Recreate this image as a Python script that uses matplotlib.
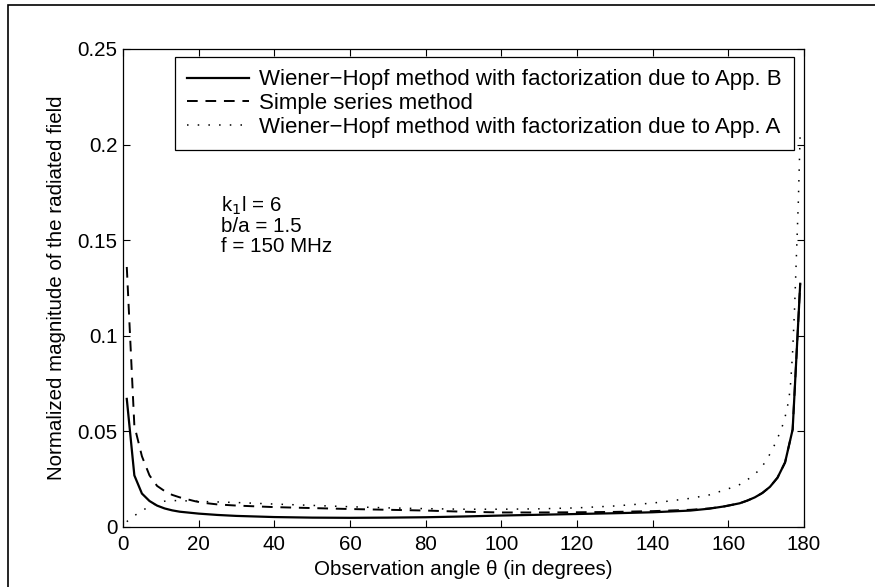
import matplotlib
matplotlib.use("Agg")
import matplotlib.pyplot as plt
from matplotlib.patches import Rectangle

plt.rcParams["font.family"] = ["Liberation Sans", "DejaVu Sans"]

# Wiener-Hopf, factorization of App. B
theta_b = [1, 3, 5, 7, 9, 11, 13, 15, 20, 25, 30, 40, 50, 60, 70, 80, 90, 100,
           110, 120, 130, 140, 150, 155, 159, 163, 165, 167, 169, 171, 173, 175,
           177, 179]
field_b = [0.067, 0.027, 0.0175, 0.0136, 0.0112, 0.0097, 0.0087, 0.0080, 0.0070,
           0.0063, 0.0058, 0.0052, 0.0049, 0.0048, 0.0049, 0.0051, 0.0055, 0.0060,
           0.0064, 0.0068, 0.0072, 0.0077, 0.0086, 0.0096, 0.0108, 0.0124, 0.0138,
           0.0155, 0.0178, 0.0210, 0.0258, 0.0338, 0.0510, 0.1272]

# simple series method
theta_s = [1, 3, 5, 7, 9, 11, 13, 15, 17, 19, 21, 25, 30, 40, 50, 60, 70, 80, 90,
           100, 110, 120, 130, 140, 150, 155, 159, 163, 165, 167, 169, 171, 173,
           175, 177, 179]
field_s = [0.136, 0.053, 0.037, 0.027, 0.0215, 0.0188, 0.0168, 0.0155, 0.0145,
           0.0135, 0.0127, 0.0118, 0.0112, 0.0104, 0.0099, 0.0094, 0.0090, 0.0086,
           0.0080, 0.0076, 0.0076, 0.0077, 0.0079, 0.0083, 0.0090, 0.0097, 0.0108,
           0.0124, 0.0138, 0.0155, 0.0178, 0.0210, 0.0258, 0.0338, 0.0510, 0.1272]

# Wiener-Hopf, factorization of App. A
theta_a = [1, 3, 5, 7, 9, 11, 13, 15, 20, 30, 40, 50, 60, 70, 80, 90, 100, 110,
           120, 130, 140, 150, 155, 160, 163, 166, 168, 170, 172, 174, 175, 176,
           176.5, 177, 177.5, 178, 178.5, 179]
field_a = [0.0028, 0.0059, 0.0085, 0.0108, 0.0124, 0.0135, 0.0138, 0.0138, 0.0134,
           0.0128, 0.0120, 0.0113, 0.0106, 0.0100, 0.0096, 0.0093, 0.0093, 0.0095,
           0.0100, 0.0110, 0.0125, 0.0150, 0.0168, 0.0200, 0.0222, 0.0260, 0.0295,
           0.0345, 0.0420, 0.0510, 0.0575, 0.0665, 0.0760, 0.0920, 0.1140, 0.1420,
           0.1700, 0.2070]

labels = ["Wiener\u2212Hopf method with factorization due to App. B",
          "Simple series method",
          "Wiener\u2212Hopf method with factorization due to App. A"]
params = ["k$_1$l = 6", "b/a = 1.5", "f = 150 MHz"]

fs = 14.8

fig = plt.figure(figsize=(8.75, 5.87), dpi=100)
fig.patches.append(Rectangle((8 / 875, -0.1), 1.2, 1 - 4.5 / 587 + 0.1,
                             transform=fig.transFigure, fill=False,
                             edgecolor="black", linewidth=1.2))
ax = fig.add_axes([123 / 875, 60 / 587, 681 / 875, 478 / 587])

ax.plot(theta_b, field_b, color="black", linewidth=1.6, label=labels[0])
ax.plot(theta_s, field_s, color="black", linewidth=1.4, dashes=(5.5, 4),
        label=labels[1])
ax.plot(theta_a, field_a, color="black", linewidth=1.1, dashes=(1, 6),
        label=labels[2])

ax.set_xlim(0, 180)
ax.set_ylim(0, 0.25)
ax.set_xticks(range(0, 181, 20))
ax.set_yticks([0, 0.05, 0.1, 0.15, 0.2, 0.25])
ax.set_yticklabels(["0", "0.05", "0.1", "0.15", "0.2", "0.25"])
ax.tick_params(direction="in", length=5, width=0.8, top=True, right=True,
               labelsize=fs)
ax.tick_params(axis="x", pad=6)
ax.tick_params(axis="y", pad=4)
for s in ax.spines.values():
    s.set_linewidth(0.9)

ax.set_xlabel("Observation angle \u03b8 (in degrees)", fontsize=fs, labelpad=4)
ax.set_ylabel("Normalized magnitude of the radiated field", fontsize=fs,
              labelpad=8)

for i, t in enumerate(params):
    ax.text(0.144, 0.672 - i * 0.043, t, transform=ax.transAxes, fontsize=fs,
            va="center", ha="left")

leg = ax.legend(loc="upper left", bbox_to_anchor=(0.076, 0.983), borderaxespad=0,
                fontsize=16, fancybox=False, framealpha=1, edgecolor="black",
                handlelength=2.8, handletextpad=0.45, labelspacing=0.12,
                borderpad=0.55)
leg.get_frame().set_linewidth(0.9)

fig.savefig("out.png", dpi=100)
